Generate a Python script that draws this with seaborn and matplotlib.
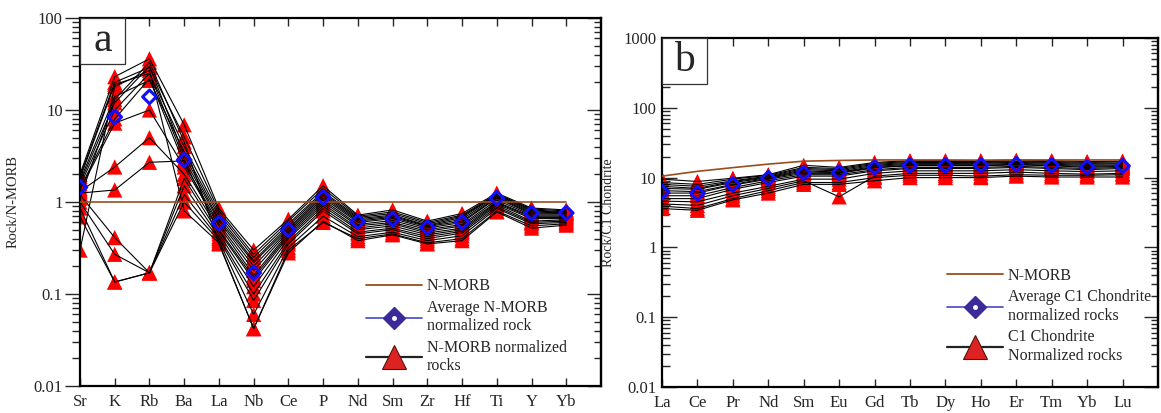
import numpy as np
import pandas as pd
import matplotlib
matplotlib.use("Agg")
import matplotlib.pyplot as plt
import seaborn as sns
from matplotlib.lines import Line2D
from matplotlib.patches import Rectangle
from matplotlib.ticker import FixedLocator, LogLocator, NullFormatter

# ---------------- data ----------------
elements_a = ["Sr", "K", "Rb", "Ba", "La", "Nb", "Ce", "P", "Nd", "Sm", "Zr", "Hf", "Ti", "Y", "Yb"]
samples_a = [
    [2.0, 23, 36, 6.9, 0.85, 0.30, 0.65, 1.50, 0.72, 0.82, 0.62, 0.75, 1.25, 0.86, 0.82],
    [1.9, 20, 29, 5.1, 0.80, 0.27, 0.62, 1.40, 0.70, 0.78, 0.60, 0.72, 1.22, 0.84, 0.80],
    [1.8, 19, 25, 4.0, 0.75, 0.25, 0.58, 1.30, 0.68, 0.75, 0.58, 0.70, 1.20, 0.82, 0.78],
    [1.7, 14, 21, 3.5, 0.70, 0.23, 0.55, 1.25, 0.66, 0.72, 0.56, 0.68, 1.18, 0.80, 0.77],
    [1.6, 12, 30, 3.2, 0.65, 0.22, 0.52, 1.20, 0.64, 0.70, 0.55, 0.65, 1.15, 0.78, 0.76],
    [1.5, 10, 25, 2.9, 0.62, 0.20, 0.50, 1.15, 0.62, 0.68, 0.54, 0.62, 1.12, 0.76, 0.75],
    [1.4, 8.0, 22, 2.6, 0.58, 0.18, 0.48, 1.10, 0.60, 0.66, 0.52, 0.60, 1.10, 0.74, 0.74],
    [1.35, 7.2, 10, 2.4, 0.55, 0.16, 0.46, 1.05, 0.57, 0.63, 0.50, 0.57, 1.05, 0.72, 0.72],
    [1.3, 2.4, 5.0, 2.0, 0.50, 0.15, 0.44, 1.00, 0.55, 0.60, 0.48, 0.55, 1.00, 0.70, 0.70],
    [1.25, 1.35, 2.7, 2.8, 0.48, 0.14, 0.42, 0.95, 0.52, 0.58, 0.46, 0.52, 0.98, 0.68, 0.68],
    [1.2, 0.41, 0.17, 1.8, 0.45, 0.12, 0.40, 0.90, 0.50, 0.55, 0.44, 0.50, 0.95, 0.66, 0.66],
    [1.0, 0.27, 0.17, 1.5, 0.42, 0.10, 0.37, 0.85, 0.47, 0.52, 0.42, 0.48, 0.92, 0.62, 0.64],
    [0.86, 0.135, 0.17, 1.2, 0.40, 0.085, 0.35, 0.80, 0.45, 0.50, 0.40, 0.46, 0.88, 0.60, 0.62],
    [0.69, 0.135, 0.17, 1.0, 0.38, 0.06, 0.32, 0.70, 0.42, 0.47, 0.38, 0.43, 0.85, 0.58, 0.60],
    [0.30, 18, 27, 0.8, 0.36, 0.042, 0.30, 0.60, 0.40, 0.45, 0.36, 0.40, 0.80, 0.55, 0.58],
    [1.1, 13, 33, 4.5, 0.35, 0.042, 0.28, 0.62, 0.38, 0.44, 0.35, 0.38, 0.78, 0.52, 0.56],
]
average_a = [1.45, 8.4, 13.9, 2.86, 0.59, 0.17, 0.50, 1.12, 0.61, 0.65, 0.53, 0.60, 1.10, 0.76, 0.76]
nmorb_a = [1.0] * len(elements_a)

elements_b = ["La", "Ce", "Pr", "Nd", "Sm", "Eu", "Gd", "Tb", "Dy", "Ho", "Er", "Tm", "Yb", "Lu"]
samples_b = [
    [9.5, 8.8, 9.8, 11.0, 15.0, 14.0, 16.5, 17.5, 17.5, 17.5, 17.8, 17.5, 17.0, 17.2],
    [8.5, 8.0, 9.5, 10.8, 14.0, 13.5, 16.0, 17.0, 17.0, 17.0, 17.2, 17.0, 16.5, 16.8],
    [8.0, 7.5, 9.0, 10.5, 13.5, 13.0, 15.5, 16.5, 16.5, 16.5, 16.8, 16.5, 16.0, 16.2],
    [7.5, 7.0, 8.8, 10.2, 13.0, 12.5, 15.0, 16.0, 16.0, 16.0, 16.5, 16.0, 15.5, 15.8],
    [7.0, 6.8, 8.5, 10.0, 12.5, 12.0, 14.5, 15.5, 15.5, 15.5, 16.0, 15.5, 15.0, 15.2],
    [6.5, 6.3, 8.0, 9.8, 12.0, 11.8, 14.0, 15.0, 15.0, 15.0, 15.5, 15.0, 14.5, 14.8],
    [6.0, 6.0, 7.8, 9.5, 11.5, 11.5, 13.8, 14.8, 14.8, 14.8, 15.2, 14.8, 14.0, 14.5],
    [5.5, 5.5, 7.2, 9.0, 11.0, 11.0, 13.0, 14.0, 14.0, 14.0, 14.5, 14.0, 13.5, 14.0],
    [5.0, 5.0, 6.8, 8.5, 10.5, 10.5, 12.5, 13.5, 13.5, 13.5, 14.0, 13.5, 13.0, 13.5],
    [4.6, 4.5, 6.0, 7.5, 9.5, 9.5, 11.5, 12.5, 12.5, 12.5, 13.0, 12.5, 12.2, 12.5],
    [4.2, 4.0, 5.5, 7.0, 9.0, 5.3, 10.5, 11.5, 11.5, 11.5, 12.0, 11.5, 11.2, 11.5],
    [3.9, 3.6, 5.0, 6.5, 8.5, 8.5, 10.0, 10.8, 10.8, 10.5, 11.0, 10.8, 10.8, 11.0],
    [3.6, 3.4, 4.8, 6.0, 8.0, 8.0, 9.0, 10.0, 10.0, 10.0, 10.5, 10.2, 10.2, 10.2],
]
average_b = [6.2, 6.0, 8.0, 9.8, 11.7, 11.8, 14.0, 15.0, 15.0, 15.0, 15.5, 15.0, 14.2, 14.7]
nmorb_b = [10.5, 12.3, 13.9, 15.6, 17.2, 17.6, 17.9, 17.9, 17.9, 17.8, 17.9, 17.9, 17.9, 17.9]

# ---------------- style ----------------
sns.set_style("ticks")
plt.rcParams["font.family"] = ["Liberation Serif", "DejaVu Serif"]

RED = "#ff0000"
BLUE = "#1010ff"
BROWN = "#9a4d1c"


def long_df(elements, samples):
    rows = []
    for s, vals in enumerate(samples):
        for i, v in enumerate(vals):
            rows.append({"sample": s, "pos": i, "value": v})
    return pd.DataFrame(rows)


def draw_panel(ax, elements, samples, average, nmorb, letter, ylim, ylabel,
               legend_labels, legend_anchor, left_dir, label_x, label_size):
    df = long_df(elements, samples)
    pos = np.arange(len(elements))
    # red triangles
    sns.scatterplot(data=df, x="pos", y="value", marker="^", s=120, color=RED,
                    edgecolor="none", linewidth=0, ax=ax, zorder=2, legend=False)
    # black sample lines
    sns.lineplot(data=df, x="pos", y="value", units="sample", estimator=None,
                 color="black", lw=0.8, ax=ax, zorder=3, legend=False)
    # N-MORB reference
    sns.lineplot(x=pos, y=nmorb, color=BROWN, lw=1.2, ax=ax, zorder=3.5, legend=False)
    # average diamonds
    sns.scatterplot(x=pos, y=average, marker="D", s=48, facecolor="none",
                    edgecolor=BLUE, linewidth=2.2, ax=ax, zorder=4, legend=False)

    ax.set_yscale("log")
    ax.set_ylim(*ylim)
    ax.set_xlim(0, len(elements))
    ax.set_xticks(pos)
    ax.set_xticklabels(elements, fontsize=12)
    ax.set_xlabel("")
    majors = [10.0 ** k for k in range(int(np.log10(ylim[0])), int(np.log10(ylim[1])) + 1)]
    ax.yaxis.set_major_locator(FixedLocator(majors))
    ax.set_yticklabels([("%g" % m) for m in majors], fontsize=12)
    ax.yaxis.set_minor_locator(LogLocator(base=10, subs=np.arange(2, 10)))
    ax.yaxis.set_minor_formatter(NullFormatter())
    ax.set_ylabel(ylabel, fontsize=label_size)
    ax.yaxis.set_label_coords(label_x, 0.5)

    for sp in ax.spines.values():
        sp.set_visible(True)
        sp.set_linewidth(1.6)
        sp.set_color("black")

    ax.tick_params(axis="x", which="both", direction="in", top=True, bottom=True,
                   length=6, width=1.0, pad=6)
    ax.tick_params(axis="y", which="major", direction=left_dir, left=True, right=False,
                   length=11, width=1.0, pad=1.5 if left_dir == "out" else 4)
    ax.tick_params(axis="y", which="minor", direction=left_dir, left=True, right=False,
                   length=6, width=1.0)
    # right axis ticks (inward)
    axr = ax.secondary_yaxis("right")
    axr.yaxis.set_major_locator(FixedLocator(majors))
    axr.yaxis.set_minor_locator(LogLocator(base=10, subs=np.arange(2, 10)))
    axr.yaxis.set_major_formatter(NullFormatter())
    axr.yaxis.set_minor_formatter(NullFormatter())
    axr.tick_params(axis="y", which="major", direction="in", length=10, width=1.0)
    axr.tick_params(axis="y", which="minor", direction="in", length=5, width=1.0)
    axr.spines["right"].set_linewidth(1.6)

    # letter box
    bw, bh = 45 / (ax.get_position().width * 1161), 46 / (ax.get_position().height * 413)
    ax.add_patch(Rectangle((0, 1 - bh), bw, bh, transform=ax.transAxes, fill=True,
                           facecolor="white", edgecolor="#333333", lw=0.9, zorder=5,
                           clip_on=False))
    ax.text(bw / 2, 1 - bh / 2, letter, transform=ax.transAxes, ha="center",
            va="center", fontsize=30, zorder=6)

    # legend
    h_nmorb = Line2D([], [], color=BROWN, lw=1.3)
    h_avg = (Line2D([], [], color="#5555cc", lw=1.3, marker="D", markersize=11,
                    markerfacecolor="#3a2a9a", markeredgecolor="#3a2a9a"),
             Line2D([], [], ls="none", marker="o", markersize=2.5,
                    markerfacecolor="white", markeredgecolor="white"))
    h_rock = Line2D([], [], color="#222222", lw=1.6, marker="^", markersize=17,
                    markerfacecolor="#dd2222", markeredgecolor="#551111", markeredgewidth=0.8)
    leg = ax.legend([h_nmorb, h_avg, h_rock], legend_labels, loc="upper left",
                    bbox_to_anchor=legend_anchor, frameon=False, fontsize=11.5,
                    handlelength=3.5, handletextpad=0.3, labelspacing=0.35,
                    borderaxespad=0)
    leg.set_zorder(7)


fig = plt.figure(figsize=(11.61, 4.13), dpi=100)
axa = fig.add_axes([80 / 1161, 1 - 386 / 413, 521 / 1161, 368 / 413])
axb = fig.add_axes([662 / 1161, 1 - 387 / 413, 496 / 1161, 349 / 413])

draw_panel(axa, elements_a, samples_a, average_a, nmorb_a, "a", (0.01, 100),
           "Rock/N-MORB",
           ["N-MORB", "Average N-MORB\nnormalized rock", "N-MORB normalized\nrocks"],
           (0.537, 0.31), "out", -0.115, 10.5)
draw_panel(axb, elements_b, samples_b, average_b, nmorb_b, "b", (0.01, 1000),
           "Rock/C1 Chondrite",
           ["N-MORB", "Average C1 Chondrite\nnormalized rocks", "C1 Chondrite\nNormalized rocks"],
           (0.562, 0.36), "in", -0.095, 10)

fig.savefig("out.png", dpi=100, facecolor="white")
